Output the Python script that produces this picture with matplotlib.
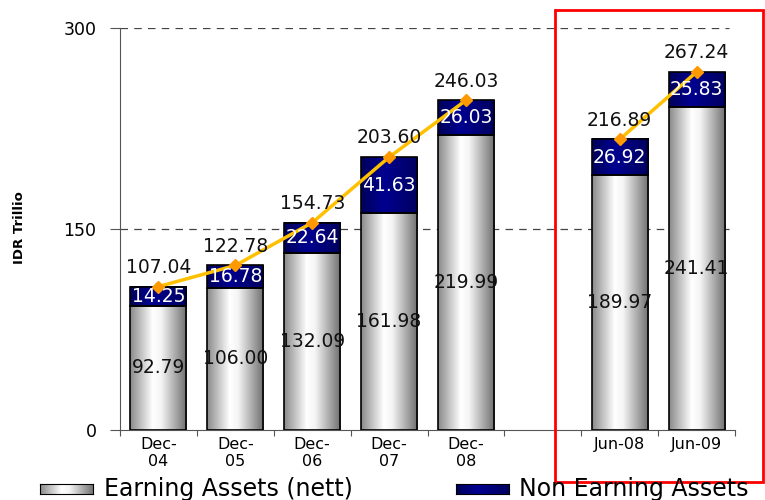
import numpy as np
import matplotlib
matplotlib.use("Agg")
import matplotlib.pyplot as plt
from matplotlib.colors import LinearSegmentedColormap
from matplotlib.patches import Rectangle

# data (IDR trillion)
categories = ["Dec-\n04", "Dec-\n05", "Dec-\n06", "Dec-\n07", "Dec-\n08", "", "Jun-08", "Jun-09"]
earning = [92.79, 106.00, 132.09, 161.98, 219.99, np.nan, 189.97, 241.41]
non_earning = [14.25, 16.78, 22.64, 41.63, 26.03, np.nan, 26.92, 25.83]
totals = [107.04, 122.78, 154.73, 203.60, 246.03, np.nan, 216.89, 267.24]
total_labels = ["107.04", "122.78", "154.73", "203.60", "246.03", "", "216.89", "267.24"]
series_names = ["Earning Assets (nett)", "Non Earning Assets"]

gray_cmap = LinearSegmentedColormap.from_list(
    "cyl", [(0, "#8a8a8a"), (0.4, "#ffffff"), (0.55, "#f4f4f4"), (1, "#6e6e6e")])
navy_cmap = LinearSegmentedColormap.from_list(
    "navy", [(0, "#00005a"), (0.4, "#000090"), (1, "#000060")])
grad = np.linspace(0, 1, 200).reshape(1, -1)

fig = plt.figure(figsize=(7.65, 5), dpi=100)
ax = fig.add_axes([120 / 765, 70 / 500, 615 / 765, 402 / 500])

x = np.arange(len(categories))
w = 0.73

for xi, e, n in zip(x, earning, non_earning):
    if np.isnan(e):
        continue
    ax.imshow(grad, extent=[xi - w / 2, xi + w / 2, 0, e], aspect="auto",
              cmap=gray_cmap, zorder=2)
    ax.imshow(grad, extent=[xi - w / 2, xi + w / 2, e, e + n], aspect="auto",
              cmap=navy_cmap, zorder=2)
    ax.add_patch(Rectangle((xi - w / 2, 0), w, e, fill=False, edgecolor="black", lw=1.2, zorder=3))
    ax.add_patch(Rectangle((xi - w / 2, e), w, n, fill=False, edgecolor="black", lw=1.2, zorder=3))
    ax.text(xi, e / 2, f"{e:.2f}", ha="center", va="center", fontsize=13.5, color="#111111", zorder=6)
    ax.text(xi, e + n / 2, f"{n:.2f}", ha="center", va="center", fontsize=13.5, color="white", zorder=6)

ax.plot(x, totals, color="#FFC000", lw=2.5, zorder=4)
ax.plot(x, totals, linestyle="none", marker="D", markersize=6.5, color="#FF9900", zorder=5)
for xi, t, lab in zip(x, totals, total_labels):
    if np.isnan(t):
        continue
    ax.annotate(lab, (xi, t), xytext=(0, 7), textcoords="offset points",
                ha="center", va="bottom", fontsize=13.5, color="#111111", zorder=6)

ax.set_xlim(-0.5, len(categories) - 0.5)
ax.set_ylim(0, 300)
ax.set_yticks([0, 150, 300])
ax.set_yticklabels(["0", "150", "300"], fontsize=12.5)
for yv in [150, 300]:
    ax.axhline(yv, xmax=0.99, color="#444444", lw=0.9, dashes=(6, 5), zorder=1)

ax.set_xticks(np.arange(len(categories) + 1) - 0.5)
ax.set_xticklabels([])
ax.set_xticks(x, minor=True)
ax.set_xticklabels(categories, minor=True, fontsize=11.5)
ax.tick_params(axis="x", which="major", length=4, color="#555555")
ax.tick_params(axis="x", which="minor", length=0, pad=5)
ax.tick_params(axis="y", length=7, color="#555555", pad=10)

for s in ["top", "right"]:
    ax.spines[s].set_visible(False)
for s in ["left", "bottom"]:
    ax.spines[s].set_color("#555555")

fig.text(20 / 765, 1 - 228 / 500, "IDR Trillio", rotation=90, ha="center", va="center",
         fontsize=9.5, fontweight="bold")

# legend drawn by hand at the bottom
lax1 = fig.add_axes([40 / 765, 6 / 500, 53 / 765, 10 / 500])
lax1.imshow(grad, aspect="auto", cmap=gray_cmap)
lax2 = fig.add_axes([456 / 765, 6 / 500, 53 / 765, 10 / 500])
lax2.imshow(grad, aspect="auto", cmap=navy_cmap)
for la in [lax1, lax2]:
    la.set_xticks([])
    la.set_yticks([])
    for s in la.spines.values():
        s.set_color("black")
fig.text(104 / 765, 11 / 500, series_names[0], ha="left", va="center", fontsize=17)
fig.text(519 / 765, 11 / 500, series_names[1], ha="left", va="center", fontsize=17)

fig.add_artist(Rectangle((555 / 765, 18 / 500), 208 / 765, 472 / 500, transform=fig.transFigure,
                         fill=False, edgecolor="red", lw=2))

fig.savefig("out.png", dpi=100)
